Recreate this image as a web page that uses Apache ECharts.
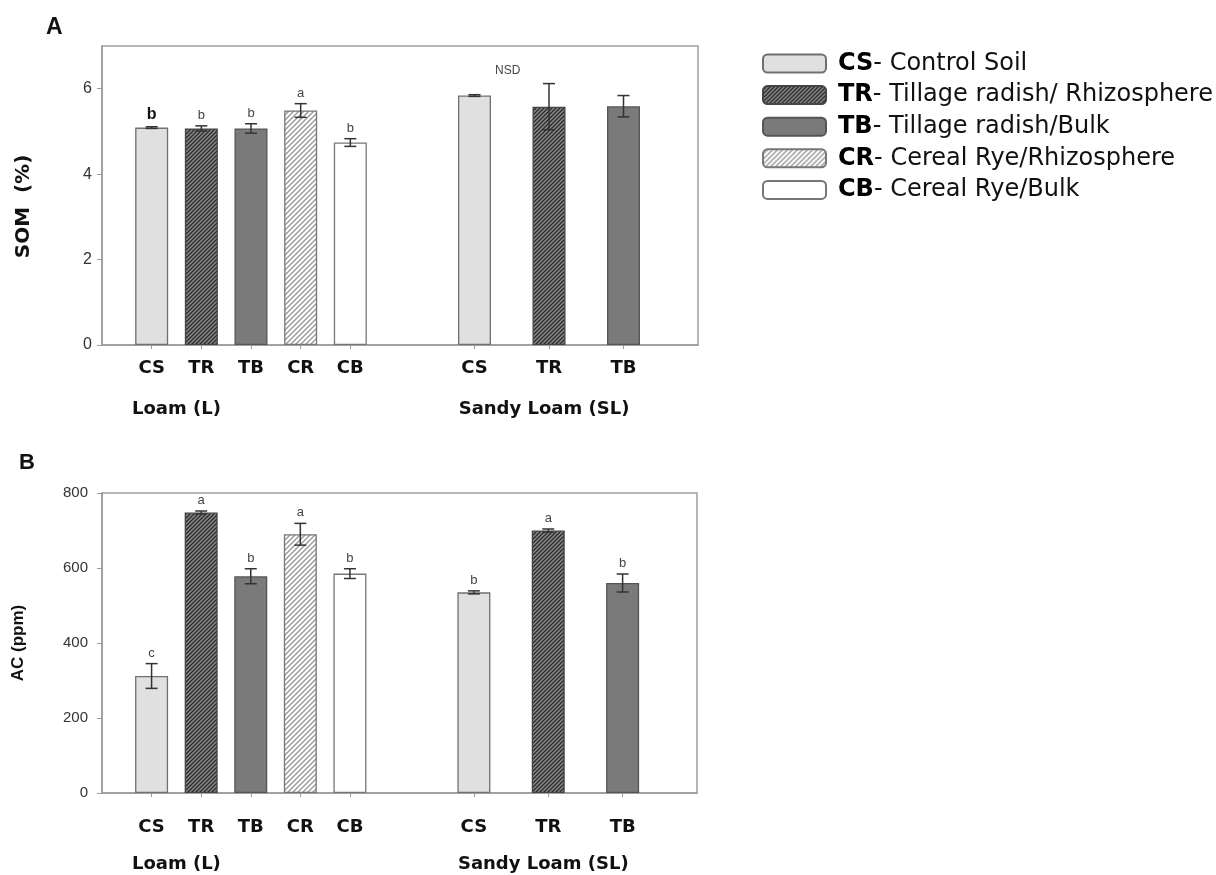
<!DOCTYPE html>
<html><head><meta charset="utf-8">
<script src="https://cdn.jsdelivr.net/npm/echarts@6/dist/echarts.min.js"></script>
<style>html,body{margin:0;padding:0;background:#fff}#c{width:1216px;height:875px}</style>
</head><body><div id="c"></div>
<script>
// ---------- data ----------
const treatments = ['CS', 'TR', 'TB', 'CR', 'CB'];
const treatmentNames = ['Control Soil', 'Tillage radish/ Rhizosphere', 'Tillage radish/Bulk', 'Cereal Rye/Rhizosphere', 'Cereal Rye/Bulk'];
const loamCats = ['CS', 'TR', 'TB', 'CR', 'CB'];
const sandyCats = ['CS', 'TR', 'TB'];
const loamPos = [1, 2, 3, 4, 5];
const sandyPos = [7.5, 9, 10.5];
const groupLabels = ['Loam (L)', 'Sandy Loam (SL)'];
const groupLabelPos = [1.5, 8.9];

const somLoam = [5.09, 5.07, 5.07, 5.49, 4.74];
const somLoamErr = [0.02, 0.06, 0.11, 0.16, 0.09];
const somLoamLetters = ['b', 'b', 'b', 'a', 'b'];
const somSandy = [5.84, 5.58, 5.59];
const somSandyErr = [0.02, 0.54, 0.25];
const somSandyLetters = ['', '', ''];
const somSandyNote = 'NSD';
const somTicks = [0, 2, 4, 6];

const acLoam = [312, 748, 578, 690, 585];
const acLoamErr = [33, 4, 20, 29, 13];
const acLoamLetters = ['c', 'a', 'b', 'a', 'b'];
const acSandy = [535, 700, 560];
const acSandyErr = [4, 4, 24];
const acSandyLetters = ['b', 'a', 'b'];
const acTicks = [0, 200, 400, 600, 800];

// ---------- styles ----------
function hatch(bg, fg, size, lw) {
  const c = document.createElement('canvas');
  c.width = c.height = size;
  const g = c.getContext('2d');
  g.fillStyle = bg; g.fillRect(0, 0, size, size);
  g.strokeStyle = fg; g.lineWidth = lw; g.beginPath();
  g.moveTo(-1, 1); g.lineTo(1, -1);
  g.moveTo(0, size); g.lineTo(size, 0);
  g.moveTo(size - 1, size + 1); g.lineTo(size + 1, size - 1);
  g.stroke();
  return { image: c, repeat: 'repeat' };
}
const styles = {
  CS: { color: '#e0e0e0', borderColor: '#707070' },
  TR: { color: hatch('#8a8a8a', '#2a2a2a', 4, 1.3), borderColor: '#444' },
  TB: { color: '#7a7a7a', borderColor: '#555' },
  CR: { color: hatch('#ffffff', '#999999', 5, 1.4), borderColor: '#777' },
  CB: { color: '#ffffff', borderColor: '#777' }
};
const FONT = 'Liberation Sans, Arial, sans-serif';
const WIDE = 'DejaVu Sans, Verdana, sans-serif';

const panels = [
  { loam: somLoam, loamErr: somLoamErr, loamLet: somLoamLetters, sandy: somSandy, sandyErr: somSandyErr, sandyLet: somSandyLetters,
    ticks: somTicks, max: 7, name: 'SOM  (%)', nameFont: WIDE, nameSize: 20, grid: { left: 102, top: 46, width: 596, height: 299 },
    catMargin: 14, grpMargin: 55, nameGap: 68, namePad: [0, 22, 0, 0], tickFont: 16, tickMargin: 10, boldFirst: true, note: somSandyNote },
  { loam: acLoam, loamErr: acLoamErr, loamLet: acLoamLetters, sandy: acSandy, sandyErr: acSandyErr, sandyLet: acSandyLetters,
    ticks: acTicks, max: 800, name: 'AC (ppm)', nameFont: FONT, nameSize: 17, grid: { left: 102, top: 493, width: 595, height: 300 },
    catMargin: 25, grpMargin: 62, nameGap: 75, namePad: [0, 0, 0, 0], tickFont: 15, tickMargin: 14, boldFirst: false, note: null }
];

const posLabel = {};
loamPos.forEach((p, i) => posLabel[String(p)] = loamCats[i]);
sandyPos.forEach((p, i) => posLabel[String(p)] = sandyCats[i]);
const grpLabel = {};
groupLabelPos.forEach((p, i) => grpLabel[String(p)] = groupLabels[i]);
const allPos = loamPos.concat(sandyPos);

const grids = [], xAxes = [], yAxes = [], series = [];
panels.forEach((P, pi) => {
  grids.push(Object.assign({ show: true, borderColor: '#a0a0a0', borderWidth: 1.5, backgroundColor: 'transparent' }, P.grid));
  xAxes.push({
    type: 'value', gridIndex: pi, min: 0, max: 12, splitLine: { show: false },
    axisLine: { show: true, lineStyle: { color: '#9a9a9a', width: 1.5 } },
    axisTick: { show: true, customValues: allPos, length: 4, lineStyle: { color: '#999' } },
    axisLabel: { show: true, customValues: allPos, margin: P.catMargin, formatter: v => posLabel[String(v)] || '',
      fontSize: 18, fontWeight: 'bold', color: '#111', fontFamily: WIDE }
  });
  xAxes.push({
    type: 'value', gridIndex: pi, min: 0, max: 12, position: 'bottom', splitLine: { show: false },
    axisLine: { show: false }, axisTick: { show: false },
    axisLabel: { show: true, customValues: groupLabelPos, margin: P.grpMargin, formatter: v => grpLabel[String(v)] || '',
      fontSize: 18, fontWeight: 'bold', color: '#111', fontFamily: WIDE }
  });
  yAxes.push({
    type: 'value', gridIndex: pi, min: 0, max: P.max, splitLine: { show: false },
    name: P.name, nameLocation: 'middle', nameGap: P.nameGap, nameRotate: 90,
    nameTextStyle: { fontSize: P.nameSize, fontWeight: 'bold', color: '#111', fontFamily: P.nameFont, padding: P.namePad },
    axisLine: { show: true, lineStyle: { color: '#9a9a9a', width: 1.5 } },
    axisTick: { show: true, customValues: P.ticks, length: 5, lineStyle: { color: '#999' } },
    axisLabel: { customValues: P.ticks, margin: P.tickMargin, fontSize: P.tickFont, color: '#333', fontFamily: FONT }
  });
  treatments.forEach(t => {
    const data = [];
    const li = loamCats.indexOf(t);
    if (li >= 0) data.push([loamPos[li], P.loam[li]]);
    const si = sandyCats.indexOf(t);
    if (si >= 0) data.push([sandyPos[si], P.sandy[si]]);
    series.push({
      type: 'bar', name: t, xAxisIndex: pi * 2, yAxisIndex: pi, data: data,
      barWidth: 33, barGap: '-100%', silent: true,
      itemStyle: Object.assign({ borderWidth: 1.3 }, styles[t])
    });
  });
  const items = [];
  loamPos.forEach((p, i) => items.push({ v: [p, P.loam[i], P.loamErr[i]], letter: P.loamLet[i], bold: P.boldFirst && i === 0 }));
  sandyPos.forEach((p, i) => items.push({ v: [p, P.sandy[i], P.sandyErr[i]], letter: P.sandyLet[i], bold: false }));
  series.push({
    type: 'custom', xAxisIndex: pi * 2, yAxisIndex: pi, silent: true, clip: false, z: 5,
    data: items.map(it => it.v),
    renderItem: function (params, api) {
      const x = api.value(0), y = api.value(1), e = api.value(2);
      const top = api.coord([x, y + e]), bot = api.coord([x, y - e]);
      const w = 6, st = { stroke: '#333', lineWidth: 1.5 };
      const it = items[params.dataIndex];
      const ch = [
        { type: 'line', shape: { x1: top[0], y1: top[1], x2: bot[0], y2: bot[1] }, style: st },
        { type: 'line', shape: { x1: top[0] - w, y1: top[1], x2: top[0] + w, y2: top[1] }, style: st },
        { type: 'line', shape: { x1: bot[0] - w, y1: bot[1], x2: bot[0] + w, y2: bot[1] }, style: st }
      ];
      if (it.letter) ch.push({ type: 'text', x: top[0], y: top[1] - 4,
        style: { text: it.letter, align: 'center', verticalAlign: 'bottom', fontFamily: FONT,
          fontSize: it.bold ? 16 : 13, fontWeight: it.bold ? 'bold' : 'normal', fill: it.bold ? '#111' : '#444' } });
      return { type: 'group', children: ch };
    }
  });
  if (P.note) {
    const mid = (sandyPos[0] + sandyPos[1]) / 2;
    const topVal = Math.max.apply(null, P.sandy.map((v, i) => v + P.sandyErr[i]));
    series.push({
      type: 'custom', xAxisIndex: pi * 2, yAxisIndex: pi, silent: true, clip: false, z: 5,
      data: [[mid, topVal]],
      renderItem: function (params, api) {
        const c = api.coord([api.value(0), api.value(1)]);
        return { type: 'text', x: c[0] - 4, y: c[1] - 7,
          style: { text: P.note, align: 'center', verticalAlign: 'bottom', fontSize: 12, fill: '#444', fontFamily: FONT } };
      }
    });
  }
});

const chart = echarts.init(document.getElementById('c'), null, { renderer: 'canvas' });
chart.setOption({
  animation: false,
  backgroundColor: '#fff',
  title: [
    { text: 'A', left: 41, top: 11, textStyle: { fontSize: 23, fontWeight: 'bold', color: '#111', fontFamily: FONT } },
    { text: 'B', left: 14, top: 447, textStyle: { fontSize: 22, fontWeight: 'bold', color: '#111', fontFamily: FONT } }
  ],
  legend: {
    data: treatments, orient: 'vertical', left: 762, top: 51.5, padding: 0, itemWidth: 63, itemHeight: 18, itemGap: 7.6,
    icon: 'roundRect', selectedMode: false,
    formatter: name => '{b|' + name + '}- ' + treatmentNames[treatments.indexOf(name)],
    textStyle: { fontSize: 24, color: '#111', fontFamily: WIDE, padding: [0, 0, 0, 7],
      rich: { b: { fontSize: 24, fontWeight: 'bold', color: '#000', fontFamily: WIDE } } }
  },
  grid: grids, xAxis: xAxes, yAxis: yAxes, series: series
});
</script></body></html>
